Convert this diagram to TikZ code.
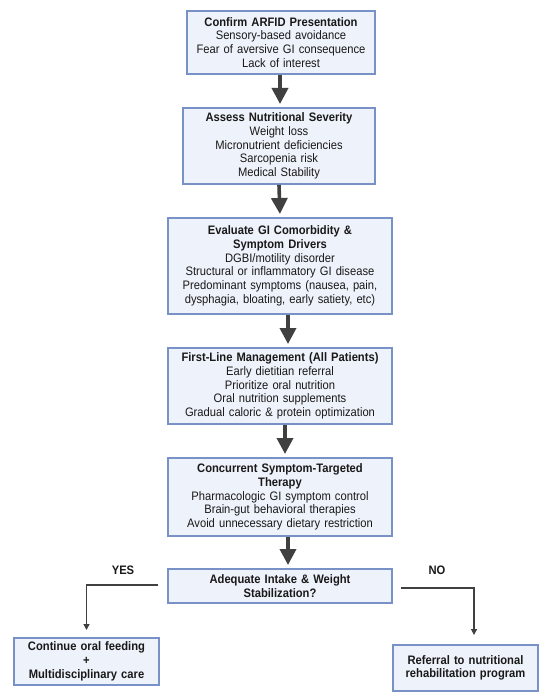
\documentclass[tikz,border=0pt]{standalone}
\usepackage{fontspec}
\setmainfont[FakeStretch=0.91]{Liberation Sans}
\usetikzlibrary{arrows.meta}
\definecolor{boxfill}{RGB}{238,242,250}
\definecolor{boxline}{RGB}{120,146,200}
\definecolor{arr}{RGB}{64,64,64}
\definecolor{txt}{RGB}{25,25,25}
\tikzset{
  box/.style={draw=boxline, fill=boxfill, line width=1.8pt, align=center,
    inner sep=2pt, text=txt, font=\fontsize{12.3}{13.7}\selectfont, anchor=north},
  bigarrow/.style={draw=arr, line width=3.6pt, -{Triangle[width=16pt,length=16pt]}, shorten >=3pt},
  smallarrow/.style={draw=arr, line width=1.3pt, -{Triangle[width=6pt,length=6pt]}},
  lbl/.style={font=\bfseries\fontsize{12.3}{13.7}\selectfont, text=txt}
}
\begin{document}
\begin{tikzpicture}[x=1pt,y=-1pt]
\useasboundingbox (0,0) rectangle (550,700);
\node[box, text width=184pt, minimum height=63pt] (b1) at (281,10)
  {\textbf{Confirm ARFID Presentation}\\Sensory-based avoidance\\Fear of aversive GI consequence\\Lack of interest};
\node[box, text width=188pt, minimum height=76pt] (b2) at (279,107)
  {\textbf{Assess Nutritional Severity}\\Weight loss\\Micronutrient deficiencies\\Sarcopenia risk\\Medical Stability};
\node[box, text width=220pt, minimum height=96pt] (b3) at (280,217)
  {\textbf{Evaluate GI Comorbidity \&}\\\textbf{Symptom Drivers}\\DGBI/motility disorder\\Structural or inflammatory GI disease\\Predominant symptoms (nausea, pain,\\dysphagia, bloating, early satiety, etc)};
\node[box, text width=220pt, minimum height=76pt] (b4) at (280,347)
  {\textbf{First-Line Management (All Patients)}\\Early dietitian referral\\Prioritize oral nutrition\\Oral nutrition supplements\\Gradual caloric \& protein optimization};
\node[box, text width=220pt, minimum height=78pt] (b5) at (280,457)
  {\textbf{Concurrent Symptom-Targeted}\\\textbf{Therapy}\\Pharmacologic GI symptom control\\Brain-gut behavioral therapies\\Avoid unnecessary dietary restriction};
\node[box, text width=220pt, minimum height=34pt] (b6) at (280,568)
  {\textbf{Adequate Intake \& Weight}\\\textbf{Stabilization?}};
\node[box, text width=141pt, minimum height=47pt, font=\bfseries\fontsize{12.3}{13.7}\selectfont] (b7) at (86.5,637)
  {Continue oral feeding\\+\\Multidisciplinary care};
\node[box, text width=141pt, minimum height=46pt, font=\bfseries\fontsize{12.3}{13.7}\selectfont] (b8) at (465.5,644)
  {Referral to nutritional\\rehabilitation program};
\node[lbl] (yes) at (123,570) {YES};
\node[lbl] (no) at (437,570) {NO};
\draw[bigarrow] ([xshift=-1pt]b1.south) -- ([xshift=-1pt]b1.south |- b2.north);
\draw[bigarrow] (b2.south) -- (b3.north);
\draw[bigarrow] ([xshift=8pt]b3.south) -- ([xshift=8pt]b4.north);
\draw[bigarrow] ([xshift=5pt]b4.south) -- ([xshift=5pt]b5.north);
\draw[bigarrow] ([xshift=8pt]b5.south) -- ([xshift=8pt]b6.north);
\draw[smallarrow, shorten >=7pt] ([xshift=-9pt,yshift=1pt]b6.west) -| (b7.north);
\draw[smallarrow, shorten >=9pt] ([xshift=8pt,yshift=-2pt]b6.east) -| ([xshift=8.5pt]b8.north);
\end{tikzpicture}
\end{document}
